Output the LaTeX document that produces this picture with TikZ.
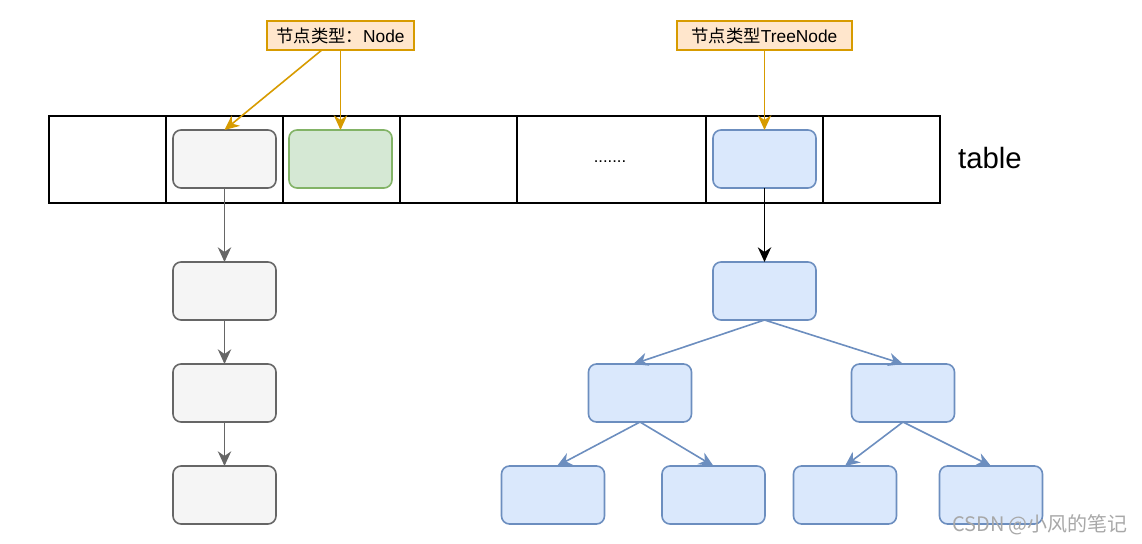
\documentclass[tikz,border=0pt]{standalone}
\usepackage{fontspec}
\setmainfont{Liberation Sans}
\newfontfamily\cjk{Noto Sans CJK SC}
\usepackage{xcolor}
\usepackage{tikz}
\usetikzlibrary{
  arrows.meta,
  positioning,
}

\definecolor{grayfill}{HTML}{F5F5F5}
\definecolor{graydraw}{HTML}{666666}
\definecolor{greenfill}{HTML}{D5E8D4}
\definecolor{greendraw}{HTML}{82B366}
\definecolor{bluefill}{HTML}{DAE8FC}
\definecolor{bluedraw}{HTML}{6C8EBF}
\definecolor{orangefill}{HTML}{FFE6CC}
\definecolor{orangedraw}{HTML}{D79B00}
\definecolor{markgray}{HTML}{A8A8A8}

\begin{document}
\begin{tikzpicture}[
  x=0.75pt, y=-0.75pt,
  every node/.style={align=center},
  entrybox/.style={rectangle, rounded corners=6pt, line width=1.2pt,
    minimum width=77.25pt, minimum height=43.5pt, inner sep=0pt, outer sep=0pt},
  graybox/.style={entrybox, fill=grayfill, draw=graydraw},
  greenbox/.style={entrybox, fill=greenfill, draw=greendraw},
  bluebox/.style={entrybox, fill=bluefill, draw=bluedraw},
  typelabel/.style={rectangle, fill=orangefill, draw=orangedraw, line width=1.2pt,
    minimum height=21.75pt, inner sep=0pt, outer sep=0pt, font=\fontsize{13}{15}\selectfont},
  tableline/.style={black, line width=1.4pt},
  tip/.style={-{Stealth[length=11pt, width=10pt, inset=3.5pt]}, line width=1.2pt},
]

\useasboundingbox (0,0) rectangle (1142,543);

% table row
\draw[tableline] (49,116) rectangle (940,203);
\foreach \x in {166,283,400,517,706,823}
  \draw[tableline] (\x,116) -- (\x,203);
\node[font=\fontsize{12.5}{14}\selectfont] (dots) at (610,162) {.......};
\node[font=\fontsize{22}{26}\selectfont] (tablename) at (990,158) {table};

% buckets
\node[graybox] (g0) at (224.5,159) {};
\node[greenbox] (gr) at (340.5,159) {};
\node[bluebox] (b0) at (764.5,159) {};

% type labels
\node[typelabel, minimum width=110.25pt] (lblnode) at (340.5,35.5) {{\cjk 节点类型：}Node};
\node[typelabel, minimum width=131.25pt] (lbltree) at (764.5,35.5) {{\cjk 节点类型}TreeNode};

\draw[tip, orangedraw] ([xshift=-14pt]lblnode.south) -- (g0.north);
\draw[tip, orangedraw] (lblnode.south) -- (gr.north);
\draw[tip, orangedraw] (lbltree.south) -- (b0.north);

% linked list
\node[graybox] (g1) at (224.5,291) {};
\node[graybox, below=33pt of g1] (g2) {};
\node[graybox, below=33pt of g2] (g3) {};
\draw[tip, graydraw] (g0) -- (g1);
\draw[tip, graydraw] (g1) -- (g2);
\draw[tip, graydraw] (g2) -- (g3);

% red-black tree
\node[bluebox] (root) at (764.5,291) {};
\node[bluebox] (tl) at (640,393) {};
\node[bluebox] (tr) at (903,393) {};
\node[bluebox] (tll) at (553,495) {};
\node[bluebox] (tlr) at (713.5,495) {};
\node[bluebox] (trl) at (845,495) {};
\node[bluebox] (trr) at (991,495) {};
\draw[tip, black] (b0) -- (root);
\draw[tip, bluedraw] (root.south) -- ([xshift=-5pt]tl.north);
\draw[tip, bluedraw] (root.south) -- (tr.north);
\draw[tip, bluedraw] (tl.south) -- ([xshift=3pt]tll.north);
\draw[tip, bluedraw] (tl.south) -- (tlr.north);
\draw[tip, bluedraw] (tr.south) -- (trl.north);
\draw[tip, bluedraw] (tr.south) -- (trr.north);

\node[font=\fontsize{15}{18}\selectfont\cjk, text=markgray] (mark) at (1040,525) {CSDN @小风的笔记};

\end{tikzpicture}
\end{document}
